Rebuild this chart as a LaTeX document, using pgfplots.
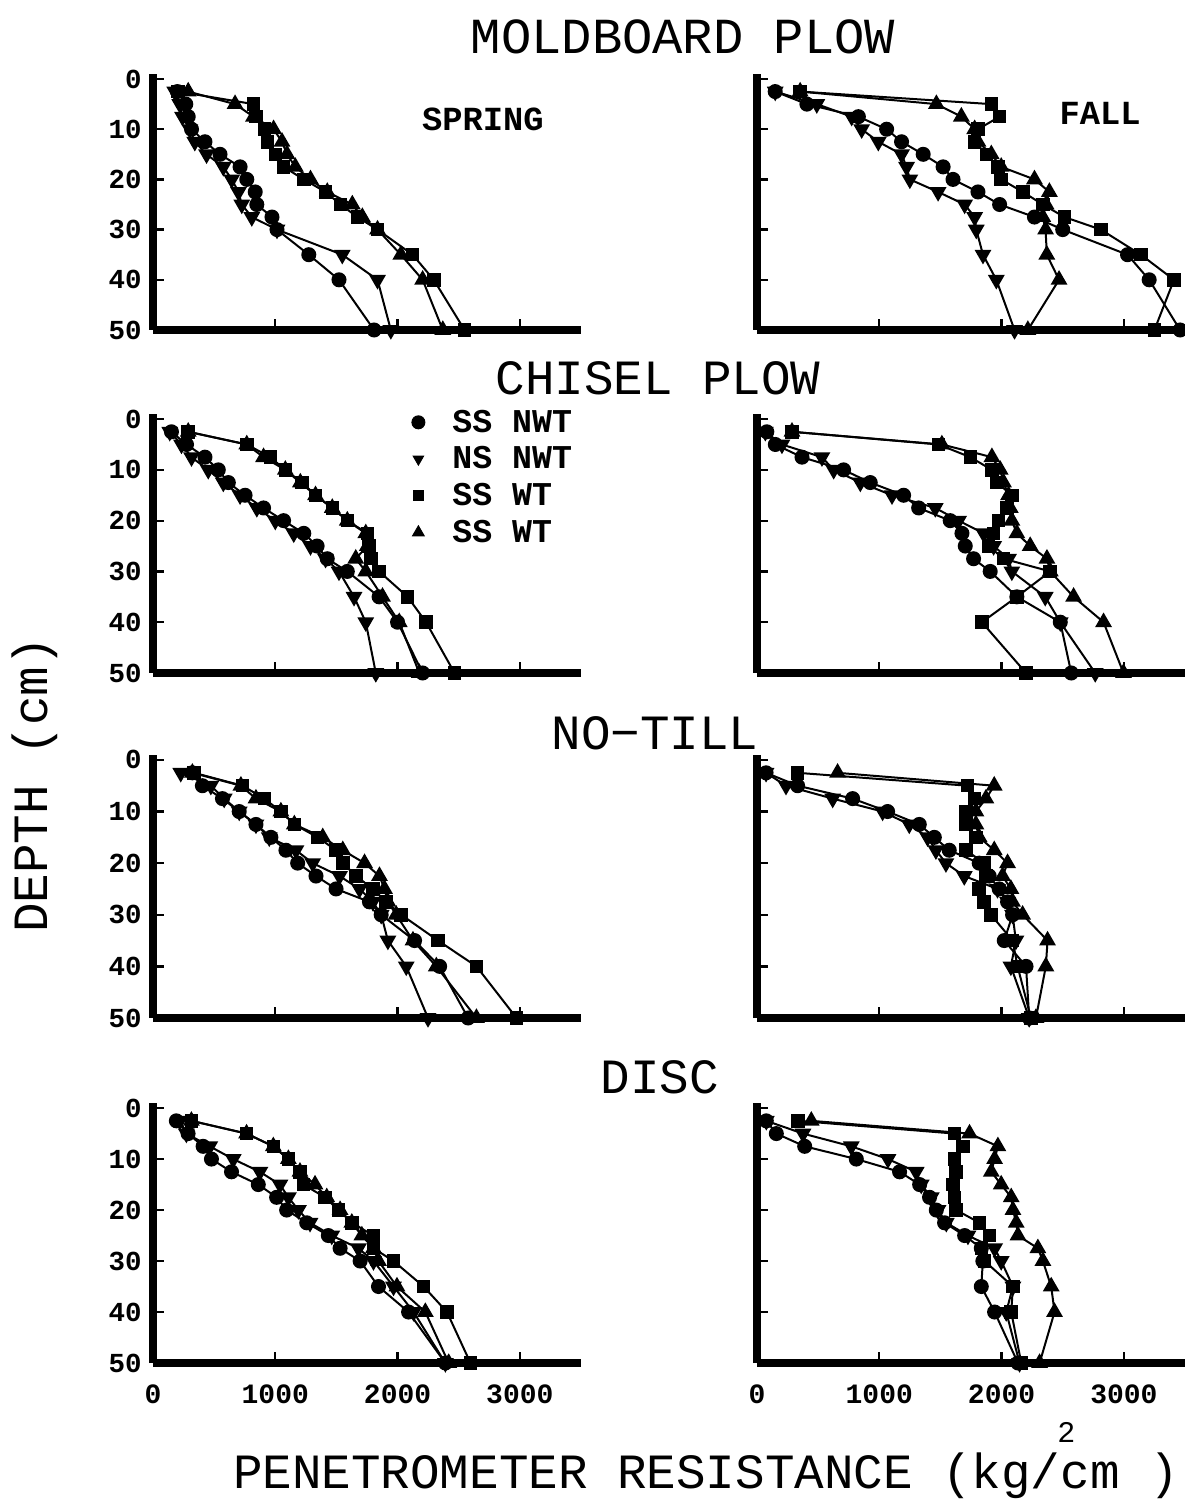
\documentclass[border=0pt]{standalone}
\usepackage{fontspec}
\setmainfont{Liberation Mono}
\usepackage{pgfplots}
\usepackage{pgfplotstable}
\pgfplotsset{compat=1.18}
\newcommand{\fs}[1]{\fontsize{#1}{#1}\selectfont}

% columns: d = depth (cm), c = SS NWT (circle), v = NS NWT (down triangle), s = SS WT (square), t = SS WT (triangle)
\pgfplotstableread{
d c v s t
2.5 200 178 205 288
5 268 219 822 671
7.5 288 241 844 822
10 315 301 910 986
12.5 425 342 937 1055
15 548 438 1000 1096
17.5 712 575 1068 1164
20 767 644 1233 1288
22.5 836 699 1411 1425
25 849 726 1534 1630
27.5 973 808 1671 1712
30 1014 1014 1836 1836
35 1274 1548 2123 2027
40 1521 1836 2296 2205
50 1808 1945 2548 2370
}\TA
\pgfplotstableread{
d c v s t
2.5 149 149 353 353
5 408 489 1916 1467
7.5 829 774 1984 1671
10 1060 856 1807 1780
12.5 1182 992 1780 1807
15 1359 1182 1875 1916
17.5 1522 1223 1970 1997
20 1603 1250 1997 2269
22.5 1807 1481 2174 2391
25 1984 1698 2337 2364
27.5 2269 1780 2514 2337
30 2500 1793 2812 2360
35 3030 1848 3139 2370
40 3207 1957 3410 2470
50 3460 2106 3250 2215
}\TB
\pgfplotstableread{
d c v s t
2.5 151 137 288 288
5 274 233 767 767
7.5 425 315 959 904
10 534 452 1082 1082
12.5 616 575 1219 1205
15 753 712 1329 1329
17.5 904 849 1466 1466
20 1068 1000 1589 1589
22.5 1233 1151 1753 1740
25 1342 1288 1767 1753
27.5 1425 1411 1781 1658
30 1589 1521 1849 1740
35 1849 1644 2082 1877
40 2000 1740 2233 2014
50 2205 1822 2466 2178
}\TC
\pgfplotstableread{
d c v s t
2.5 80 68 286 286
5 150 204 1485 1512
7.5 368 531 1744 1921
10 708 627 1921 1989
12.5 926 845 1962 2016
15 1199 1104 2084 2057
17.5 1322 1458 2044 2071
20 1580 1649 1975 2084
22.5 1676 1853 1935 2125
25 1703 1935 1894 2234
27.5 1771 2057 2016 2371
30 1907 2084 2398 2398
35 2125 2357 2125 2589
40 2480 2480 1839 2834
50 2570 2766 2200 2997
}\TD
\pgfplotstableread{
d c v s t
2.5 322 227 336 322
5 404 473 732 719
7.5 568 582 910 842
10 705 705 1046 1046
12.5 842 842 1156 1156
15 964 951 1347 1388
17.5 1087 1169 1497 1552
20 1183 1306 1552 1730
22.5 1333 1525 1661 1852
25 1497 1689 1798 1893
27.5 1770 1798 1907 1921
30 1866 1866 2030 1989
35 2139 1921 2331 2126
40 2344 2071 2645 2317
50 2577 2249 2973 2645
}\TE
\pgfplotstableread{
d c v s t
2.5 74 74 332 659
5 332 237 1722 1940
7.5 782 619 1777 1872
10 1068 1027 1708 1790
12.5 1327 1245 1708 1790
15 1450 1395 1790 1817
17.5 1572 1463 1708 1940
20 1817 1545 1858 2049
22.5 1899 1695 1872 2008
25 1981 1967 1817 2076
27.5 2049 2049 1858 2090
30 2090 2090 1913 2172
35 2022 2117 2090 2376
40 2200 2076 2131 2362
50 2226 2226 2240 2281
}\TF
\pgfplotstableread{
d c v s t
2.5 191 220 314 314
5 287 273 765 765
7.5 410 464 984 984
10 478 656 1107 1107
12.5 642 874 1202 1202
15 861 1038 1230 1325
17.5 1011 1107 1407 1421
20 1093 1189 1516 1530
22.5 1257 1284 1626 1626
25 1434 1462 1803 1708
27.5 1530 1680 1803 1803
30 1694 1803 1967 1844
35 1844 1967 2213 1995
40 2090 2131 2404 2227
50 2391 2391 2596 2418
}\TG
\pgfplotstableread{
d c v s t
2.5 76 76 335 444
5 158 376 1616 1738
7.5 390 771 1684 1970
10 812 1071 1616 1943
12.5 1166 1302 1629 1916
15 1330 1343 1602 1997
17.5 1411 1425 1616 2079
20 1466 1480 1629 2093
22.5 1534 1548 1820 2120
25 1698 1725 1902 2134
27.5 1834 1943 1834 2297
30 1847 1997 1861 2338
35 1834 2093 2093 2406
40 1943 2038 2079 2433
50 2134 2147 2161 2311
}\TH

\pgfplotsset{
  panel/.style={
    scale only axis, width=171.2pt,
    xmin=0, xmax=3500, ymin=-50, ymax=1,
    axis x line=bottom, axis y line=left,
    axis line style={-, line width=3.2pt, black},
    xtick={0,1000,2000,3000}, ytick={-50,-40,-30,-20,-10,0},
    tick align=inside, major tick length=4.5pt,
    tick style={line width=0.9pt, black},
    yticklabels={50,40,30,20,10,0},
    xticklabels={},
    yticklabel style={font=\bfseries\fs{11}, xshift=-1pt},
    xticklabel style={font=\bfseries\fs{11.2}, yshift=-5pt},
    clip=false, anchor=south west,
  },
  right col/.style={yticklabels={}},
  bottom row/.style={xticklabels={0,1000,2000,3000}},
  sc/.style={black, line width=0.8pt, mark=*, mark size=2.6pt, mark options={solid, fill=black}},
  sv/.style={black, line width=0.8pt, mark=triangle*, mark size=3.1pt, mark options={solid, fill=black, rotate=180}},
  ss/.style={black, line width=0.8pt, mark=square*, mark size=2.3pt, mark options={solid, fill=black}},
  st/.style={black, line width=0.8pt, mark=triangle*, mark size=3.1pt, mark options={solid, fill=black}},
}
\newcommand{\series}[1]{%
  \addplot[sc] table[x=c, y expr=-\thisrow{d}] {#1};
  \addplot[sv] table[x=v, y expr=-\thisrow{d}] {#1};
  \addplot[ss] table[x=s, y expr=-\thisrow{d}] {#1};
  \addplot[st] table[x=t, y expr=-\thisrow{d}] {#1};
}

\begin{document}
\begin{tikzpicture}
\path[use as bounding box] (0,0) rectangle (474pt,600.4pt);

% Row 1: moldboard plow
\begin{axis}[panel, at={(61.2pt,468.4pt)}, height=102.4pt]
\series{\TA}
\end{axis}
\begin{axis}[panel, right col, at={(302.8pt,468.4pt)}, height=102.4pt]
\series{\TB}
\end{axis}

% Row 2: chisel plow
\begin{axis}[panel, at={(61.2pt,331.2pt)}, height=103.6pt,
  legend style={at={(0.795,0.755)}, anchor=center, draw=none, fill=none,
    font=\bfseries\fs{13.3}, cells={anchor=west}, row sep=4.9pt, column sep=10pt,
    nodes={inner sep=1pt, text height=7.8pt, text depth=0pt}}]
\addlegendimage{only marks, mark=*, mark size=2.6pt, black}
\addlegendentry{SS NWT}
\addlegendimage{only marks, mark=triangle*, mark size=2.4pt, black, mark options={rotate=180}}
\addlegendentry{NS NWT}
\addlegendimage{only marks, mark=square*, mark size=2.0pt, black}
\addlegendentry{SS WT}
\addlegendimage{only marks, mark=triangle*, mark size=2.7pt, black}
\addlegendentry{SS WT}
\series{\TC}
\end{axis}
\begin{axis}[panel, right col, at={(302.8pt,331.2pt)}, height=103.6pt]
\series{\TD}
\end{axis}

% Row 3: no-till
\begin{axis}[panel, at={(61.2pt,193.2pt)}, height=105.3pt]
\series{\TE}
\end{axis}
\begin{axis}[panel, right col, at={(302.8pt,193.2pt)}, height=105.3pt]
\series{\TF}
\end{axis}

% Row 4: disc
\begin{axis}[panel, bottom row, at={(61.2pt,55.2pt)}, height=104.0pt]
\series{\TG}
\end{axis}
\begin{axis}[panel, right col, bottom row, at={(302.8pt,55.2pt)}, height=104.0pt]
\series{\TH}
\end{axis}

% Titles and labels
\node[font=\fs{20.2}] at (273.2pt,585.6pt) {MOLDBOARD PLOW};
\node[font=\fs{19.7}] at (263.2pt,449.2pt) {CHISEL PLOW};
\node[font=\fs{19.7}] at (262pt,307.2pt) {NO−TILL};
\node[font=\fs{19.7}] at (264pt,169.6pt) {DISC};
\node[font=\bfseries\fs{13.5}] at (193.2pt,552.8pt) {SPRING};
\node[font=\bfseries\fs{13.5}] at (440pt,555.2pt) {FALL};
\node[font=\fs{19.7}, rotate=90] at (14pt,286.4pt) {DEPTH (cm)};
\node[font=\fs{19.7}, inner sep=0pt] at (282.4pt,10.2pt) {PENETROMETER RESISTANCE (kg/cm )};
\node[font=\fs{12}, inner sep=0pt] at (426.5pt,27.4pt) {2};
\end{tikzpicture}
\end{document}
